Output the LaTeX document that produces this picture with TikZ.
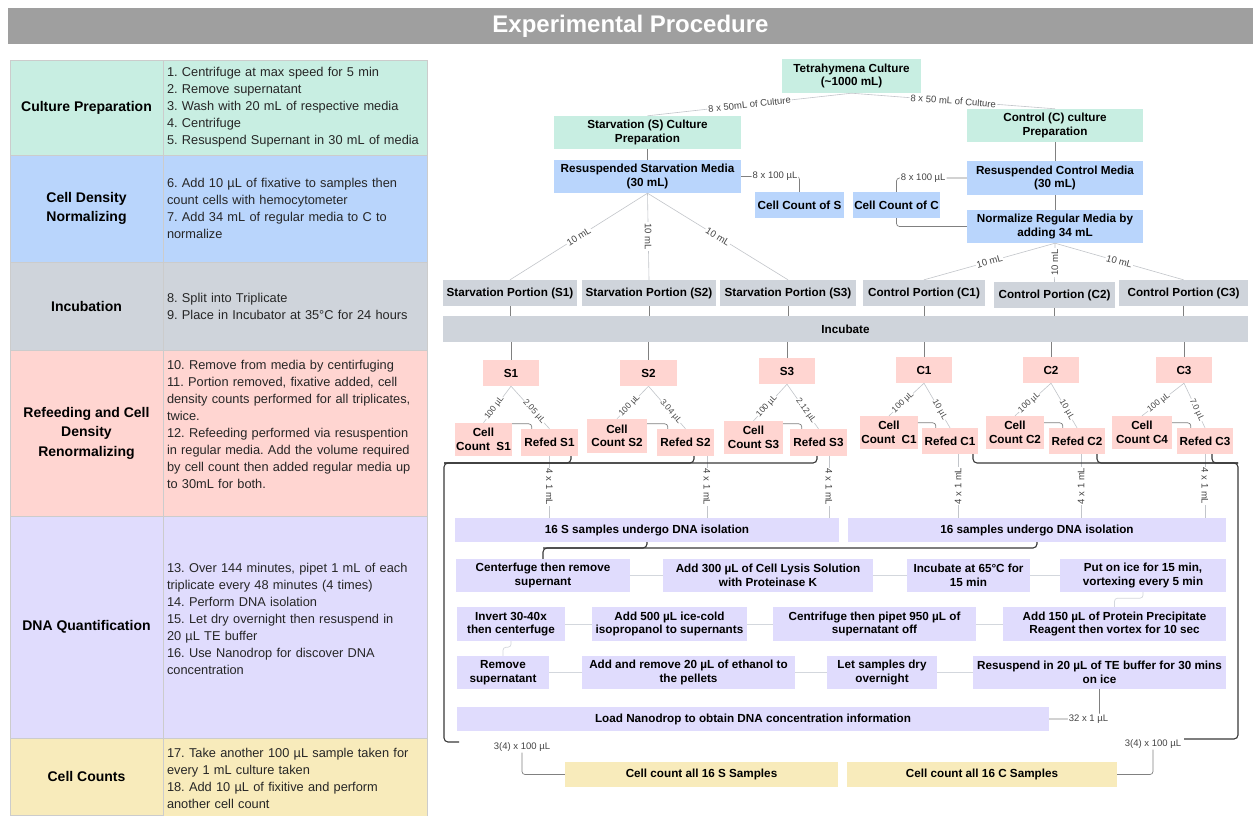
\documentclass[tikz,border=0pt]{standalone}
\usepackage{fontspec}
\setmainfont{Liberation Sans}
\frenchspacing
\definecolor{mint}{HTML}{C8EEE2}
\definecolor{sky}{HTML}{B9D5FC}
\definecolor{slate}{HTML}{CFD4DB}
\definecolor{blush}{HTML}{FFD5D1}
\definecolor{lilac}{HTML}{E0DCFD}
\definecolor{straw}{HTML}{F8EBBB}
\definecolor{titlegray}{HTML}{9F9F9F}
\definecolor{linegray}{HTML}{C2C5CA}
\definecolor{faintgray}{HTML}{D3D7DD}
\definecolor{elbowgray}{HTML}{808080}
\definecolor{darkline}{HTML}{3A3A3A}
\definecolor{lbltext}{HTML}{444444}
\tikzset{
  cell/.style={rectangle, draw=white!80!black, line width=0.5pt, inner sep=0pt},
  head/.style={font=\bfseries\fontsize{14}{19.5}\selectfont, align=center},
  steps/.style={font=\fontsize{12.8}{17}\selectfont, text width=256, align=left, text=black!85},
  box/.style={rectangle, inner sep=1pt, align=center, font=\bfseries\fontsize{11.7}{13.5}\selectfont},
  lbl/.style={font=\fontsize{9.5}{10}\selectfont, text=lbltext, fill=white, inner sep=1pt},
  tip/.style={lbl, sloped, pos=0.6, font=\fontsize{8.5}{9}\selectfont, inner sep=0.5pt},
  link/.style={draw=linegray, line width=0.6pt},
  faint/.style={draw=faintgray, line width=0.7pt, rounded corners=3pt},
  elbow/.style={draw=elbowgray, line width=0.7pt, rounded corners=3pt},
  bracket/.style={draw=darkline, line width=1.1pt, rounded corners=4pt}
}
\begin{document}
\begin{tikzpicture}[x=1pt, y=-1pt]
  \fill[white] (0,0) rectangle (1253,815);
  \useasboundingbox (0,0) rectangle (1253,815);
  \draw
    (630.5,26) node[fill=titlegray, text=white, minimum width=1245, minimum height=36,
      font=\bfseries\fontsize{24}{28}\selectfont] (title) {Experimental Procedure};
  \draw
    (86.5,107.5) node[cell, head, fill=mint, minimum width=153, minimum height=95] (hCulture) {Culture Preparation}
    (295,107.5) node[cell, steps, fill=mint, minimum width=264, minimum height=95] (tCulture)
      {1. Centrifuge at max speed for 5 min\\2. Remove supernatant\\3. Wash with 20 mL of respective media\\4. Centrifuge\\5. Resuspend Supernant in 30 mL of media}
    (86.5,208.5) node[cell, head, fill=sky, minimum width=153, minimum height=107] (hDensity) {Cell Density\\Normalizing}
    (295,208.5) node[cell, steps, fill=sky, minimum width=264, minimum height=107] (tDensity)
      {6. Add 10 µL of fixative to samples then\\count cells with hemocytometer\\7. Add 34 mL of regular media to C to\\normalize}
    (86.5,306) node[cell, head, fill=slate, minimum width=153, minimum height=88] (hIncub) {Incubation}
    (295,306) node[cell, steps, fill=slate, minimum width=264, minimum height=88] (tIncub)
      {8. Split into Triplicate\\9. Place in Incubator at 35°C for 24 hours}
    (86.5,433) node[cell, head, fill=blush, minimum width=153, minimum height=166] (hRefeed) {Refeeding and Cell\\Density\\Renormalizing}
    (295,433) node[cell, steps, fill=blush, minimum width=264, minimum height=166] (tRefeed)
      {10. Remove from media by centirfuging\\11. Portion removed, fixative added, cell\\density counts performed for all triplicates,\\twice.\\12. Refeeding performed via resuspention\\in regular media. Add the volume required\\by cell count then added regular media up\\to 30mL for both.\\\mbox{}}
    (86.5,627) node[cell, head, fill=lilac, minimum width=153, minimum height=222] (hDNA) {DNA Quantification}
    (295,627) node[cell, steps, fill=lilac, minimum width=264, minimum height=222] (tDNA)
      {13. Over 144 minutes, pipet 1 mL of each\\triplicate every 48 minutes (4 times)\\14. Perform DNA isolation\\15. Let dry overnight then resuspend in\\20 µL TE buffer\\16. Use Nanodrop for discover DNA\\concentration\\\mbox{}}
    (86.5,776.5) node[cell, head, fill=straw, minimum width=153, minimum height=77] (hCount) {Cell Counts}
    (295,778) node[cell, steps, fill=straw, minimum width=264, minimum height=80] (tCount)
      {17. Take another 100 µL sample taken for\\every 1 mL culture taken\\18. Add 10 µL of fixitive and perform\\another cell count};
  \draw
    (851.5,76) node[box, fill=mint, minimum width=139, minimum height=34] (tetra) {Tetrahymena Culture\\(\textasciitilde1000 mL)}
    (647.5,132.5) node[box, fill=mint, minimum width=187, minimum height=33] (sprep) {Starvation (S) Culture\\Preparation}
    (647.5,176.5) node[box, fill=sky, minimum width=187, minimum height=33] (sres) {Resuspended Starvation Media\\(30 mL)}
    (799.5,205) node[box, fill=sky, minimum width=89, minimum height=26] (ccS) {Cell Count of S}
    (896.5,205) node[box, fill=sky, minimum width=87, minimum height=26] (ccC) {Cell Count of C}
    (1055,125.5) node[box, fill=mint, minimum width=176, minimum height=33] (cprep) {Control (C) culture\\Preparation}
    (1055,178) node[box, fill=sky, minimum width=176, minimum height=34] (cres) {Resuspended Control Media\\(30 mL)}
    (1055,226.5) node[box, fill=sky, minimum width=176, minimum height=33] (cnorm) {Normalize Regular Media by\\adding 34 mL};
  \draw
    (510,293) node[box, fill=slate, minimum width=134, minimum height=26] (S1p) {Starvation Portion (S1)}
    (649,293) node[box, fill=slate, minimum width=134, minimum height=26] (S2p) {Starvation Portion (S2)}
    (788,293) node[box, fill=slate, minimum width=136, minimum height=26] (S3p) {Starvation Portion (S3)}
    (924,293) node[box, fill=slate, minimum width=122, minimum height=26] (C1p) {Control Portion (C1)}
    (1054.5,295) node[box, fill=slate, minimum width=121, minimum height=26] (C2p) {Control Portion (C2)}
    (1183.5,293) node[box, fill=slate, minimum width=129, minimum height=26] (C3p) {Control Portion (C3)}
    (845.5,329) node[box, fill=slate, minimum width=805, minimum height=26] (inc) {Incubate};
  \draw
    (511,373) node[box, fill=blush, minimum width=56, minimum height=26] (S1) {S1}
    (648.5,373) node[box, fill=blush, minimum width=57, minimum height=26] (S2) {S2}
    (787,371) node[box, fill=blush, minimum width=56, minimum height=26] (S3) {S3}
    (924,370) node[box, fill=blush, minimum width=56, minimum height=26] (C1) {C1}
    (1051,370) node[box, fill=blush, minimum width=56, minimum height=26] (C2) {C2}
    (1184,370) node[box, fill=blush, minimum width=56, minimum height=26] (C3) {C3}
    (483.5,439.5) node[box, fill=blush, minimum width=57, minimum height=33] (ccS1) {Cell\\Count\ \ S1}
    (549.5,442.5) node[box, fill=blush, minimum width=57, minimum height=27] (rS1) {Refed S1}
    (617,436) node[box, fill=blush, minimum width=60, minimum height=34] (ccS2) {Cell\\Count S2}
    (685.5,442.5) node[box, fill=blush, minimum width=57, minimum height=27] (rS2) {Refed S2}
    (753.5,437.5) node[box, fill=blush, minimum width=59, minimum height=33] (ccS3) {Cell\\Count S3}
    (818.5,442.5) node[box, fill=blush, minimum width=57, minimum height=27] (rS3) {Refed S3}
    (889,432.5) node[box, fill=blush, minimum width=56, minimum height=33] (ccC1) {Cell\\Count\ \ C1}
    (950,441) node[box, fill=blush, minimum width=56, minimum height=26] (rC1) {Refed C1}
    (1015,432.5) node[box, fill=blush, minimum width=58, minimum height=33] (ccC2) {Cell\\Count C2}
    (1077,441) node[box, fill=blush, minimum width=56, minimum height=26] (rC2) {Refed C2}
    (1142,432.5) node[box, fill=blush, minimum width=60, minimum height=33] (ccC4) {Cell\\Count C4}
    (1205,441) node[box, fill=blush, minimum width=56, minimum height=26] (rC3) {Refed C3};
  \draw
    (647,530) node[box, fill=lilac, minimum width=384, minimum height=24] (isoS) {16 S samples undergo DNA isolation}
    (1037,530) node[box, fill=lilac, minimum width=378, minimum height=24] (isoC) {16 samples undergo DNA isolation}
    (543,575.5) node[box, fill=lilac, minimum width=174, minimum height=33] (cent) {Centerfuge then remove\\supernant}
    (768,575.5) node[box, fill=lilac, minimum width=210, minimum height=33] (lysis) {Add 300 µL of Cell Lysis Solution\\with Proteinase K}
    (968.5,575.5) node[box, fill=lilac, minimum width=123, minimum height=33] (inc65) {Incubate at 65°C for\\15 min}
    (1143,575.5) node[box, fill=lilac, minimum width=166, minimum height=33] (ice) {Put on ice for 15 min,\\vortexing every 5 min}
    (511,624) node[box, fill=lilac, minimum width=108, minimum height=34] (invert) {Invert 30-40x\\then centerfuge}
    (669.5,624) node[box, fill=lilac, minimum width=155, minimum height=34] (isop) {Add 500 µL ice-cold\\isopropanol to supernants}
    (874.5,624) node[box, fill=lilac, minimum width=203, minimum height=34] (cpip) {Centrifuge then pipet 950 µL of\\supernatant off}
    (1114.5,624) node[box, fill=lilac, minimum width=223, minimum height=34] (prot) {Add 150 µL of Protein Precipitate\\Reagent then vortex for 10 sec}
    (503,672.5) node[box, fill=lilac, minimum width=92, minimum height=33] (remove) {Remove\\supernatant}
    (688.5,672.5) node[box, fill=lilac, minimum width=213, minimum height=33] (eth) {Add and remove 20 µL of ethanol to\\the pellets}
    (882,672.5) node[box, fill=lilac, minimum width=110, minimum height=33] (dry) {Let samples dry\\overnight}
    (1099.5,672.5) node[box, fill=lilac, minimum width=253, minimum height=33] (resus) {Resuspend in 20 µL of TE buffer for 30 mins\\on ice}
    (753,719) node[box, fill=lilac, minimum width=592, minimum height=24] (load) {Load Nanodrop to obtain DNA concentration information}
    (701.5,774.5) node[box, fill=straw, minimum width=273, minimum height=25] (ccallS) {Cell count all 16 S Samples}
    (982,774.5) node[box, fill=straw, minimum width=270, minimum height=25] (ccallC) {Cell count all 16 C Samples};
  \draw
    (522,747) node[lbl] (sct) {3(4) x 100 µL}
    (1153,744) node[lbl] (cct) {3(4) x 100 µL};
  \coordinate (sbus) at (444,463);
  \coordinate (send) at (459,742);
  \coordinate (cbus) at (1238,463);
  \coordinate (cend) at (1184,739);
  \coordinate (dnabus) at (543,548);
  \begin{scope}[link]
    \draw (tetra.south) -- node[lbl, sloped] {8 x 50mL of Culture} (sprep.north);
    \draw (tetra.south) -- node[lbl, sloped] {8 x 50 mL of Culture} (cprep.north);
    \draw (sres.south) -- node[lbl, sloped] {10 mL} (S1p.north);
    \draw (sres.south) -- node[lbl, rotate=-90] {10 mL} (S2p.north);
    \draw (sres.south) -- node[lbl, sloped] {10 mL} (S3p.north);
    \draw (cnorm.south) -- node[lbl, sloped] {10 mL} (C1p.north);
    \draw (cnorm.south) -- node[lbl, rotate=90] {10 mL} (C2p.north);
    \draw (cnorm.south) -- node[lbl, sloped] {10 mL} (C3p.north);
    \draw (S1.south) -- node[tip] {100 µL} (ccS1.north);
    \draw (S1.south) -- node[tip] {2.05 µL} (rS1.north);
    \draw (S2.south) -- node[tip] {100 µL} (ccS2.north);
    \draw (S2.south) -- node[tip] {3.04 µL} (rS2.north);
    \draw (S3.south) -- node[tip] {100 µL} (ccS3.north);
    \draw (S3.south) -- node[tip] {2.12 µL} (rS3.north);
    \draw (C1.south) -- node[tip] {100 µL} (ccC1.north);
    \draw (C1.south) -- node[tip] {10 µL} (rC1.north);
    \draw (C2.south) -- node[tip] {100 µL} (ccC2.north);
    \draw (C2.south) -- node[tip] {10 µL} (rC2.north);
    \draw (C3.south) -- node[tip] {100 µL} (ccC4.north);
    \draw (C3.south) -- node[tip] {7.0 µL} (rC3.north);
    \draw (rS1.south) -- node[lbl, rotate=-90] {4 x 1 mL} (rS1.south |- isoS.north);
    \draw ([xshift=21.5pt]rS2.south) -- node[lbl, rotate=-90] {4 x 1 mL} ([xshift=21.5pt]rS2.south |- isoS.north);
    \draw ([xshift=10.5pt]rS3.south) -- node[lbl, rotate=-90] {4 x 1 mL} ([xshift=10.5pt]rS3.south |- isoS.north);
    \draw ([xshift=8pt]rC1.south) -- node[lbl, rotate=90] {4 x 1 mL} ([xshift=8pt]rC1.south |- isoC.north);
    \draw ([xshift=4pt]rC2.south) -- node[lbl, rotate=90] {4 x 1 mL} ([xshift=4pt]rC2.south |- isoC.north);
    \draw (rC3.south) -- node[lbl, rotate=-90] {4 x 1 mL} (rC3.south |- isoC.north);
  \end{scope}
  \begin{scope}[elbow]
    \draw (sprep) -- (sres);
    \draw (cprep) -- (cres);
    \draw (cres) -- (cnorm);
    \draw (sres.east) -| node[lbl, pos=0.29] {8 x 100 µL} (ccS.north);
    \draw (cres.west) -| node[lbl, pos=0.31] {8 x 100 µL} (ccC.north);
    \draw (ccC.south) |- (cnorm.west);
    \draw (S1p.south) -- (S1p.south |- inc.north);
    \draw (S2p.south) -- (S2p.south |- inc.north);
    \draw (S3p.south) -- (S3p.south |- inc.north);
    \draw (C1p.south) -- (C1p.south |- inc.north);
    \draw (C2p.south) -- (C2p.south |- inc.north);
    \draw (C3p.south) -- (C3p.south |- inc.north);
    \draw (S1.north |- inc.south) -- (S1.north);
    \draw (S2.north |- inc.south) -- (S2.north);
    \draw (S3.north |- inc.south) -- (S3.north);
    \draw (C1.north |- inc.south) -- (C1.north);
    \draw (C2.north |- inc.south) -- (C2.north);
    \draw (C3.north |- inc.south) -- (C3.north);
    \draw (ccS1.east |- rS1.north) ++(0,-5) -| ([xshift=11pt]rS1.north west);
    \draw (ccS2.east |- rS2.north) ++(0,-5) -| ([xshift=11pt]rS2.north west);
    \draw (ccS3.east |- rS3.north) ++(0,-5) -| ([xshift=12pt]rS3.north west);
    \draw (ccC1.east |- rC1.north) ++(0,-5) -| ([xshift=14pt]rC1.north west);
    \draw (ccC2.east |- rC2.north) ++(0,-5) -| ([xshift=14pt]rC2.north west);
    \draw (ccC4.east |- rC3.north) ++(0,-5) -| ([xshift=14pt]rC3.north west);
    \draw (sct.south) |- (ccallS.west);
    \draw (cct.south) |- (ccallC.east);
    \draw (resus.south) |- node[lbl, pos=0.61] {32 x 1 µL} (load.east);
  \end{scope}
  \begin{scope}[faint]
    \draw (cent) -- (lysis);
    \draw (lysis) -- (inc65);
    \draw (inc65) -- (ice);
    \draw (ice.south) -- ++(0,6) -| (prot.north);
    \draw (prot) -- (cpip);
    \draw (cpip) -- (isop);
    \draw (isop) -- (invert);
    \draw (invert.south) -- ++(0,6) -| (remove.north);
    \draw (remove) -- (eth);
    \draw (eth) -- (dry);
    \draw (dry) -- (resus);
  \end{scope}
  \begin{scope}[bracket]
    \draw ([xshift=21.5pt]rS1.south) |- (sbus) |- (send);
    \draw ([xshift=8.5pt]rS2.south) |- (sbus);
    \draw ([xshift=-1.5pt]rS3.south) |- (sbus);
    \draw ([xshift=23pt]rC1.south) |- (cbus) |- (cend);
    \draw ([xshift=20pt]rC2.south) |- (cbus);
    \draw ([xshift=7pt]rC3.south) |- (cbus);
    \draw (isoS.south) |- (dnabus) -- (cent.north);
    \draw (isoC.south) |- (dnabus);
  \end{scope}
\end{tikzpicture}
\end{document}
